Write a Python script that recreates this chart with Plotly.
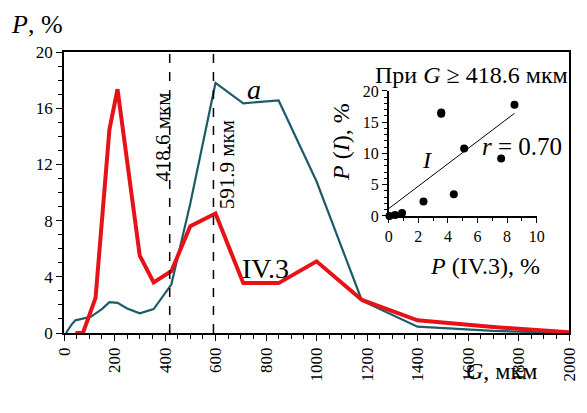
import numpy as np
import plotly.graph_objects as go

# ---- data ----
G_iv3 = [45, 75, 125, 180, 212, 300, 355, 425, 500, 600, 710, 850, 1000, 1180, 1400, 1700, 2000]
P_iv3 = [0.0, 0.0, 2.5, 14.5, 17.35, 5.5, 3.6, 4.4, 7.6, 8.5, 3.55, 3.55, 5.1, 2.35, 0.9, 0.43, 0.05]

G_a = [8, 30, 45, 75, 106, 150, 180, 212, 250, 300, 355, 425, 500, 600, 710, 850, 1000, 1180, 1400, 1700, 2000]
P_a = [0.0, 0.6, 0.9, 1.05, 1.15, 1.7, 2.2, 2.15, 1.75, 1.4, 1.7, 3.45, 9.2, 17.8, 16.35, 16.55, 10.8, 2.3, 0.45, 0.15, 0.0]

G_cut = 418.6
G_mode = 591.9

x_ticks = [0, 200, 400, 600, 800, 1000, 1200, 1400, 1600, 1800, 2000]
y_ticks = [0, 4, 8, 12, 16, 20]
inset_x_ticks = [0, 2, 4, 6, 8, 10]
inset_y_ticks = [0, 5, 10, 15, 20]

# inset: pairs (P IV.3, P a) for G >= cut, with least-squares line
a_map = dict(zip(G_a, P_a))
pairs = [(p, a_map[g]) for g, p in zip(G_iv3, P_iv3) if g >= G_cut and g in a_map]
sx = np.array([p[0] for p in pairs])
sy = np.array([p[1] for p in pairs])
slope, intercept = np.polyfit(sx, sy, 1)
fit_x = np.array([0.0, sx.max()])
fit_y = slope * fit_x + intercept

FONT = "Liberation Serif, Times New Roman, serif"
RED = "rgb(230,18,24)"
TEAL = "rgb(28,92,104)"

fig = go.Figure()
fig.add_trace(go.Scatter(x=G_a, y=P_a, mode="lines",
                         line=dict(color=TEAL, width=2.2),
                         xaxis="x", yaxis="y", showlegend=False))
fig.add_trace(go.Scatter(x=G_iv3, y=P_iv3, mode="lines",
                         line=dict(color=RED, width=4),
                         xaxis="x", yaxis="y", showlegend=False))
for gx in [G_cut, G_mode]:
    fig.add_trace(go.Scatter(x=[gx, gx], y=[0, 20], mode="lines",
                             line=dict(color="black", width=1.5, dash="dash"),
                             xaxis="x", yaxis="y", showlegend=False))

fig.add_trace(go.Scatter(x=fit_x, y=fit_y, mode="lines",
                         line=dict(color="black", width=1),
                         xaxis="x2", yaxis="y2", showlegend=False))
fig.add_trace(go.Scatter(x=sx, y=sy, mode="markers",
                         marker=dict(color="black", size=8),
                         xaxis="x2", yaxis="y2", showlegend=False, cliponaxis=False))

tickfont = dict(family=FONT, size=17, color="black")
ifont = dict(family=FONT, size=16, color="black")

fig.update_layout(
    width=571, height=389,
    margin=dict(l=56, r=10, t=44, b=64),
    paper_bgcolor="white", plot_bgcolor="white",
    xaxis=dict(range=[0, 2000], tickvals=x_ticks, ticktext=[str(v) for v in x_ticks],
               tickangle=-90, tickfont=tickfont, ticks="outside", ticklen=6, tickwidth=1.2,
               tickcolor="black", showline=True, linecolor="black", linewidth=1.5, mirror=True,
               showgrid=False, zeroline=False, automargin=False,
               minor=dict(dtick=50, ticks="outside", ticklen=4, tickcolor="black", tickwidth=1)),
    yaxis=dict(range=[0, 20], tickvals=y_ticks, tickfont=tickfont, ticks="outside", ticklen=6,
               tickwidth=1.2, tickcolor="black", showline=True, linecolor="black", linewidth=1.5,
               mirror=True, showgrid=False, zeroline=False, automargin=False,
               minor=dict(dtick=1, ticks="outside", ticklen=4, tickcolor="black", tickwidth=1)),
    xaxis2=dict(domain=[0.643, 0.936], anchor="y2", range=[0, 10], tickvals=inset_x_ticks,
                tickfont=ifont, ticks="outside", ticklen=5, tickcolor="black", showline=True,
                linecolor="black", linewidth=1.5, showgrid=False, zeroline=False, automargin=False,
                minor=dict(dtick=1, ticks="outside", ticklen=3, tickcolor="black")),
    yaxis2=dict(domain=[0.4166, 0.8615], anchor="x2", range=[0, 20], tickvals=inset_y_ticks,
                tickfont=ifont, ticks="outside", ticklen=5, tickcolor="black", showline=True,
                linecolor="black", linewidth=1.5, showgrid=False, zeroline=False, automargin=False,
                minor=dict(dtick=1, ticks="outside", ticklen=3, tickcolor="black")),
)

def ann(text, x, y, xref="x", yref="y", size=20, angle=0, **kw):
    fig.add_annotation(text=text, x=x, y=y, xref=xref, yref=yref, showarrow=False,
                       textangle=angle, font=dict(family=FONT, size=size, color="black"),
                       xanchor="center", yanchor="middle", **kw)

ann(f"{G_cut} мкм", 391, 13.95, size=21, angle=-90)
ann(f"{G_mode} мкм", 647, 11.96, size=21, angle=-90)
ann("<i>a</i>", 752, 17.3, size=28)
ann("IV.3", 798, 4.57, size=28)
ann("<i>P</i>, %", -0.054, 1.098, xref="paper", yref="paper", size=26)
ann("<i>G</i>, мкм", 0.866, -0.137, xref="paper", yref="paper", size=24)
ann(f"При <i>G</i> ≥ {G_cut} мкм", 0.806, 0.917, xref="paper", yref="paper", size=24)
ann("<i>r</i> = 0.70", 8.99, 11.16, xref="x2", yref="y2", size=25)
ann("<i>I</i>", 2.62, 8.93, xref="x2", yref="y2", size=24)
ann("<i>P</i> (<i>I</i>), %", 0.548, 0.679, xref="paper", yref="paper", size=24, angle=-90)
ann("<i>P</i> (IV.3), %", 0.833, 0.239, xref="paper", yref="paper", size=24)

fig.write_html("out.html")
